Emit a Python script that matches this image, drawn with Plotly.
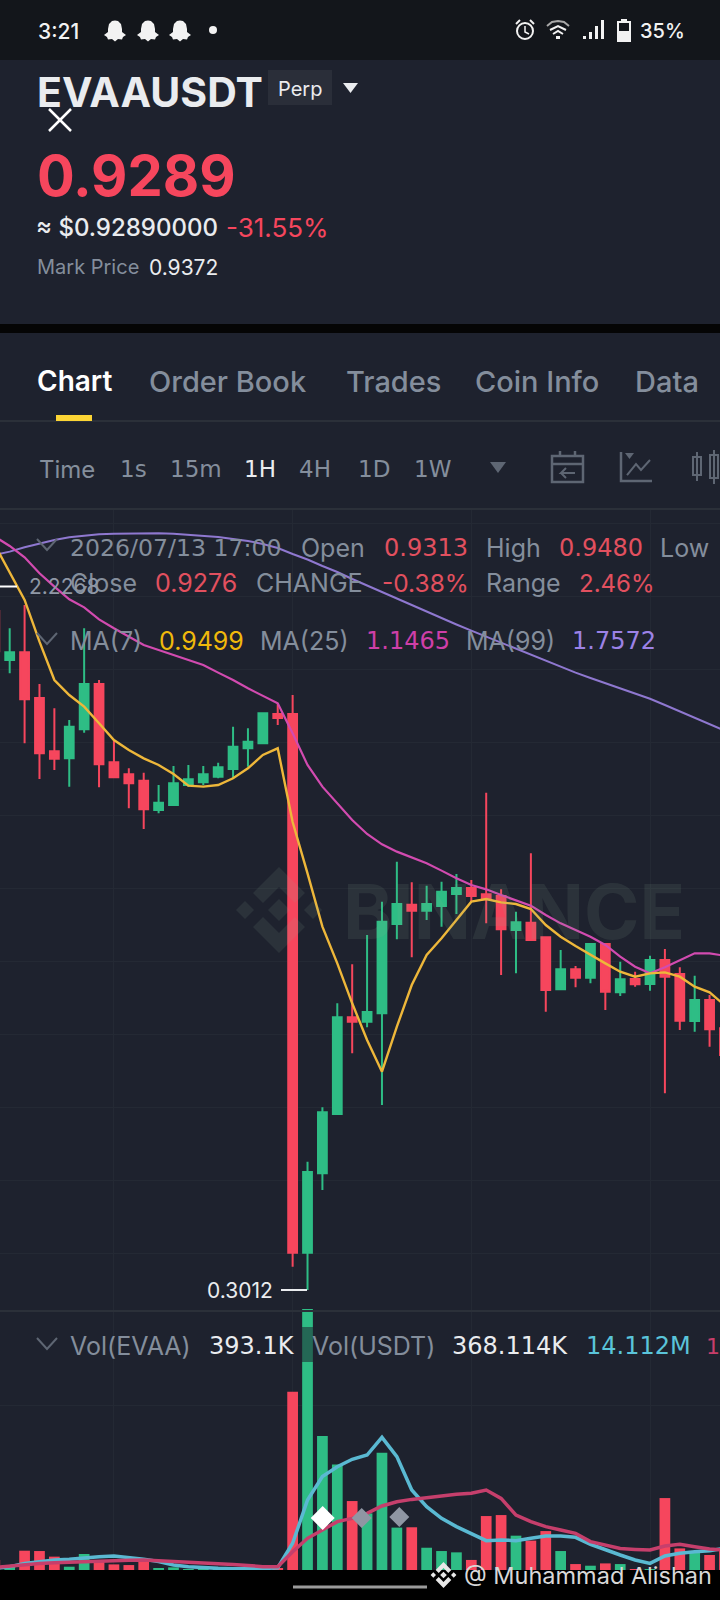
import plotly.graph_objects as go

W, H = 720, 1600
BG = "#1e222e"
GRAY = "#848e9c"
RED = "#f6465d"
RED_DIM = "#e2505f"
GREEN = "#2ebd85"
FONT = "Inter"
NUM = "DejaVu Sans"

candle = list(range(-1, 49))
open_ = [2.16, 2.0262, 2.0472, 1.9221, 1.7761, 1.7569, 1.8363, 1.9605, 1.7460, 1.7131, 1.6958, 1.6155, 1.6291, 1.6839, 1.6912, 1.7067, 1.7277, 1.7843, 1.7980, 1.8783, 1.8783,
         0.4034, 0.6206, 0.7831, 1.0478, 1.0359, 1.0587, 1.3033, 1.3563, 1.3398, 1.3526, 1.3855, 1.4018, 1.3845, 1.3799, 1.2868, 1.3069, 1.2667, 1.1244, 1.1791, 1.1563,
         1.2485, 1.1161, 1.1526, 1.1390, 1.2047, 1.1663, 1.0377, 1.0952, 1.0176]
high = [2.2268, 2.1129, 2.1768, 1.9605, 1.8938, 1.8619, 2.1129, 1.9714, 1.8071, 1.7295, 1.7177, 1.6839, 1.7359, 1.7387, 1.7359, 1.7451, 1.8436, 1.8391, 1.8829, 1.9075, 1.9303,
        0.6526, 0.8013, 1.0861, 1.1929, 1.2732, 1.3645, 1.4740, 1.4174, 1.4083, 1.4192, 1.4402, 1.4237, 1.6629, 1.3982, 1.3370, 1.4967, 1.2686, 1.2321, 1.1882, 1.2485,
        1.2503, 1.2001, 1.1727, 1.2165, 1.2348, 1.1846, 1.1618, 1.1088, 1.0221]
low = [2.00, 1.9897, 1.7980, 1.7003, 1.7250, 1.6793, 1.8272, 1.6775, 1.7022, 1.6200, 1.5634, 1.6063, 1.6264, 1.6793, 1.6839, 1.7022, 1.7022, 1.7341, 1.7962, 1.8482, 0.3651,
       0.3012, 0.5750, 0.7822, 0.9492, 1.0204, 0.8077, 1.2613, 1.2121, 1.3143, 1.2960, 1.3307, 1.3644, 1.3051, 1.1636, 1.1682, 1.2576, 1.0632, 1.1225, 1.1298, 1.1408,
       1.0678, 1.1061, 1.1317, 1.1207, 0.8396, 1.0130, 1.0085, 0.9674, 0.9309]
close = [2.05, 2.0472, 1.9185, 1.7706, 1.7560, 1.8436, 1.9605, 1.7405, 1.7049, 1.6885, 1.6173, 1.6355, 1.6885, 1.6994, 1.7131, 1.7323, 1.7889, 1.8026, 1.8801, 1.8674, 0.4034,
         0.6243, 0.7876, 1.0478, 1.0359, 1.0624, 1.3097, 1.3581, 1.3398, 1.3581, 1.3919, 1.4019, 1.3799, 1.3708, 1.2887, 1.3078, 1.2594, 1.1225, 1.1791, 1.1563, 1.2485,
         1.1180, 1.1517, 1.1381, 1.2047, 1.1590, 1.0386, 1.0952, 1.0148, 0.9446]
ma7 = [2.3410, 2.2662, 2.1905, 2.0764, 1.9714, 1.9303, 1.8984, 1.8528, 1.8071, 1.7797, 1.7569, 1.7387, 1.7140, 1.6821, 1.6793, 1.6839, 1.7022, 1.7295, 1.7661, 1.7843, 1.5826,
       1.4420, 1.2960, 1.1956, 1.0861, 0.9857, 0.8990, 1.0222, 1.1363, 1.2184, 1.2641, 1.3143, 1.3644, 1.3717, 1.3626, 1.3580, 1.3443, 1.3005, 1.2686, 1.2430, 1.2184,
       1.1955, 1.1727, 1.1590, 1.1682, 1.1709, 1.1590, 1.1317, 1.1161, 1.0814]
ma25 = [2.3639, 2.3383, 2.3073, 2.2635, 2.2270, 2.1923, 2.1704, 2.1375, 2.1129, 2.0901, 2.0672, 2.0536, 2.0399, 2.0262, 2.0125, 1.9915, 1.9714, 1.9486, 1.9285, 1.9075, 1.8254,
        1.7387, 1.6793, 1.6337, 1.5881, 1.5497, 1.5215, 1.5014, 1.4849, 1.4694, 1.4494, 1.4284, 1.4100, 1.3982, 1.3827, 1.3690, 1.3535, 1.3279, 1.3051, 1.2868, 1.2686,
        1.2458, 1.2138, 1.1864, 1.1682, 1.1846, 1.2047, 1.2229, 1.2229, 1.2165]
ma99 = [2.3137, 2.3228, 2.3347, 2.3456, 2.3547, 2.3620, 2.3666, 2.3703, 2.3721, 2.3730, 2.3730, 2.3730, 2.3721, 2.3693, 2.3666, 2.3630, 2.3575, 2.3520, 2.3438, 2.3328, 2.3164,
        2.3013, 2.2835, 2.2671, 2.2479, 2.2299, 2.2123, 2.1940, 2.1767, 2.1576, 2.1411, 2.1234, 2.1066, 2.0899, 2.0732, 2.0563, 2.0398, 2.0242, 2.0081, 1.9914, 1.9769,
        1.9623, 1.9476, 1.9330, 1.9199, 1.9029, 1.8849, 1.8684, 1.8509, 1.8331]
volume = [6.0, 3.0, 11.7, 11.5, 8.1, 2.0, 9.7, 5.1, 3.4, 3.0, 6.1, 1.0, 1.6, 0.4, 0.4, 0.4, 1.0, 0.8, 1.0, 1.0, 108.1,
          158.2, 81.2, 64.0, 41.8, 34.3, 71.1, 25.7, 25.9, 13.5, 11.5, 10.7, 6.1, 32.7, 33.3, 20.8, 17.8, 23.6, 11.5, 3.6, 2.6,
          4.0, 3.6, 0.6, 0.4, 43.6, 13.1, 11.1, 9.1, 12.1]
vol_ma_a = [1.0, 2.0, 4.0, 5.1, 6.1, 6.5, 7.5, 8.1, 8.5, 7.7, 6.5, 5.1, 3.0, 2.0, 1.4, 1.0, 0.8, 0.6, 0.8, 1.4, 16.2,
            42.4, 56.6, 62.6, 67.1, 69.7, 80.4, 68.7, 48.5, 38.4, 31.3, 26.3, 22.2, 17.8, 18.2, 17.8, 19.2, 20.6, 20.6, 19.8, 15.6,
            12.1, 9.1, 6.1, 4.0, 8.5, 10.1, 11.1, 11.7, 13.1]
vol_ma_b = [1.6, 2.4, 3.4, 4.0, 4.4, 4.8, 5.1, 5.5, 5.7, 5.9, 6.1, 5.7, 5.1, 4.8, 4.6, 4.0, 3.4, 2.8, 2.0, 2.0, 11.1,
            19.2, 24.2, 29.3, 31.3, 34.3, 38.8, 41.4, 42.8, 44.0, 44.8, 45.9, 46.5, 48.5, 43.4, 33.3, 29.3, 26.3, 24.2, 22.2, 17.2,
            15.2, 13.1, 12.5, 12.1, 14.5, 15.6, 14.1, 12.7, 12.1]
vol_colors = [GREEN if c >= o else RED for o, c in zip(open_, close)]


# pixel helpers for the app furniture round the chart
def fx(x):
    return x / W


def fy(y):
    return 1 - y / H


shapes = []
notes = []


def rect(x0, y0, x1, y1, fill, layer="above", outline=None, lw=0):
    shapes.append(dict(type="rect", xref="paper", yref="paper", x0=fx(x0), x1=fx(x1), y0=fy(y1), y1=fy(y0),
                       fillcolor=fill, line=dict(color=outline, width=lw) if outline else dict(width=0), layer=layer))


def seg(x0, y0, x1, y1, color, lw=2, layer="above"):
    shapes.append(dict(type="line", xref="paper", yref="paper", x0=fx(x0), x1=fx(x1), y0=fy(y0), y1=fy(y1),
                       line=dict(color=color, width=lw), layer=layer))


def poly(points, fill=None, color=None, lw=0, closed=True, layer="above"):
    d = "M " + " L ".join(f"{fx(x):.5f},{fy(y):.5f}" for x, y in points) + (" Z" if closed else "")
    shapes.append(dict(type="path", path=d, xref="paper", yref="paper", fillcolor=fill,
                       line=dict(color=color, width=lw) if color else dict(width=0), layer=layer))


def txt(x, y, s, size, color=GRAY, anchor="left", weight=400, font=FONT):
    notes.append(dict(x=fx(x), y=fy(y), xref="paper", yref="paper", text=s, showarrow=False, xanchor=anchor, yanchor="middle",
                      font=dict(family=font, size=size, color=color, weight=weight), borderpad=0))


def ghost(cx, cy):
    p = [(-7, -2), (-6, -7), (-3, -10), (0, -10.5), (3, -10), (6, -7), (7, -2), (7, 1), (11, 4), (8, 6), (7, 8.5), (3, 8), (0, 10.5), (-3, 8), (-7, 8.5), (-8, 6), (-11, 4), (-7, 1)]
    poly([(cx + a, cy + b) for a, b in p], fill="#f2f2f2")


def chevron(y):
    poly([(37, y - 6), (47, y + 5), (57, y - 6)], color="#5e6673", lw=2, closed=False)


def diamond(cx, cy, r, fill):
    poly([(cx - r, cy), (cx, cy - r), (cx + r, cy), (cx, cy + r)], fill=fill)


def logo(cx, cy, s, fill):
    roof = [(0, -43), (26, -17), (16, -7), (0, -23), (-16, -7), (-26, -17)]
    poly([(cx + a * s, cy + b * s) for a, b in roof], fill=fill)
    poly([(cx + a * s, cy - b * s) for a, b in roof], fill=fill)
    diamond(cx, cy, 11 * s, fill)
    diamond(cx - 34 * s, cy, 9 * s, fill)
    diamond(cx + 34 * s, cy, 9 * s, fill)


# panels
rect(0, 0, 720, 60, "#13161b", "below")
rect(0, 324, 720, 333, "#050505", "below")
rect(0, 1570, 720, 1600, "#000000")
seg(0, 421, 720, 421, "#2b3039", 2, "below")
seg(0, 509, 720, 509, "#2b3039", 2, "below")

# status bar
txt(37, 31, "3:21", 21, "#f2f2f2", weight=500)
for cx in (115, 148, 180):
    ghost(cx, 31)
shapes.append(dict(type="circle", xref="paper", yref="paper", x0=fx(209), x1=fx(217), y0=fy(34), y1=fy(26), fillcolor="#f2f2f2", line=dict(width=0)))
shapes.append(dict(type="circle", xref="paper", yref="paper", x0=fx(517), x1=fx(533), y0=fy(39), y1=fy(23), line=dict(color="#f2f2f2", width=2)))
poly([(525, 26), (525, 32), (529, 34)], color="#f2f2f2", lw=1.5, closed=False)
seg(516, 24, 520, 20, "#f2f2f2", 2)
seg(534, 24, 530, 20, "#f2f2f2", 2)
poly([(547, 26), (552, 22), (558, 21), (564, 22), (569, 26)], color="#a8a8a8", lw=2, closed=False)
poly([(550, 30), (558, 26), (566, 30)], color="#f2f2f2", lw=2, closed=False)
poly([(553, 34), (558, 31), (563, 34)], color="#f2f2f2", lw=2, closed=False)
rect(556, 36, 560, 39, "#f2f2f2")
for sx, top in zip((583, 589, 595, 601), (36, 32, 26, 20)):
    rect(sx, top, sx + 3, 39, "#f2f2f2")
rect(618, 22, 630, 41, None, outline="#f2f2f2", lw=2)
rect(621, 19, 627, 22, "#f2f2f2")
rect(618, 31, 630, 41, "#f2f2f2")
txt(639, 31, "35%", 20, "#f2f2f2", weight=500)

# header
txt(36, 92, "EVAAUSDT", 41, "#eaecef", weight=700)
rect(268, 70, 332, 105, "#2a2e39")
txt(300, 89, "Perp", 20, "#eaecef", "center")
poly([(343, 83), (358, 83), (350.5, 93)], fill="#eaecef")
seg(49, 109, 71, 131, "#ffffff", 2.5)
seg(71, 109, 49, 131, "#ffffff", 2.5)
txt(36, 176, "0.9289", 56, RED, weight=700)
txt(35, 228, "≈ $0.92890000", 24, "#eaecef", weight=500)
txt(225, 228, "-31.55%", 26, RED)
txt(36, 267, "Mark Price", 20, GRAY)
txt(148, 267, "0.9372", 21, "#eaecef")

# tabs
txt(36, 381, "Chart", 28, "#ffffff", weight=600)
for tx, s in zip((148, 345, 474, 634), ("Order Book", "Trades", "Coin Info", "Data")):
    txt(tx, 381, s, 29, GRAY, weight=500)
rect(56, 415, 92, 421, "#fcd535")

# intervals
txt(38, 469, "Time", 24)
for tx, s, col in zip((119, 169, 243, 298, 357, 413), ("1s", "15m", "1H", "4H", "1D", "1W"),
                      (GRAY, GRAY, "#eaecef", GRAY, GRAY, GRAY)):
    txt(tx, 469, s, 23, col, font=NUM)
poly([(490, 462), (506, 462), (498, 473)], fill="#5e6673")
ICON = "#5e6673"
rect(552, 456, 583, 482, None, outline=ICON, lw=2.5)
seg(552, 464, 583, 464, ICON, 2.5)
seg(560, 451, 560, 456, ICON, 2.5)
seg(575, 451, 575, 456, ICON, 2.5)
poly([(575, 473), (561, 473), (566, 468)], color=ICON, lw=2, closed=False)
seg(561, 473, 566, 478, ICON, 2)
poly([(621, 452), (621, 481), (652, 481)], color=ICON, lw=2.5, closed=False)
poly([(627, 475), (636, 464), (641, 470), (650, 460)], color=ICON, lw=2, closed=False)
poly([(625, 453), (634, 453), (629.5, 459)], fill=ICON)
rect(693, 457, 701, 475, None, outline=ICON, lw=2)
seg(697, 452, 697, 481, ICON, 2)
rect(710, 455, 718, 478, None, outline=ICON, lw=2)
seg(714, 450, 714, 484, ICON, 2)

# chart overlay texts
chevron(545)
txt(69, 548, "2026/07/13 17:00", 23.6, font=NUM)
txt(300, 548, "Open", 25)
txt(383, 548, "0.9313", 24, RED_DIM, font=NUM)
txt(485, 548, "High", 25)
txt(558, 548, "0.9480", 24, RED_DIM, font=NUM)
txt(659, 548, "Low", 25)
txt(69, 583, "Close", 25)
txt(154, 583, "0.9276", 25, RED_DIM)
txt(255, 583, "CHANGE", 25)
txt(381, 583, "-0.38%", 24.5, RED_DIM)
txt(485, 583, "Range", 25)
txt(578, 583, "2.46%", 24, RED_DIM)
chevron(639)
txt(69, 641, "MA(7)", 25)
txt(158, 641, "0.9499", 25, "#f0b90b")
txt(259, 641, "MA(25)", 25)
txt(365, 641, "1.1465", 24, "#cf3fa8", font=NUM)
txt(465, 641, "MA(99)", 25)
txt(571, 641, "1.7572", 24, "#9c82e6", font=NUM)
seg(0, 586.5, 17, 586.5, "#ffffff", 2)
txt(28, 586, "2.2268", 21, "#8f98a6")
seg(281, 1290, 307, 1290, "#eaecef", 2)
txt(274, 1290, "0.3012", 21, "#eaecef", "right")

# watermark
wm = "rgba(140,170,150,0.12)"
logo(279, 910, 1.0, wm)
txt(342, 911, "BINANCE", 75, wm, weight=700)

# volume header
seg(0, 1311, 720, 1311, "#2b3039", 2)
rect(302, 1327, 313, 1362, "rgba(30,34,46,0.55)")
chevron(1344)
txt(69, 1346, "Vol(EVAA)", 25)
txt(208, 1346, "393.1K", 24, "#eaecef", font=NUM)
txt(311, 1346, "Vol(USDT)", 25)
txt(451, 1346, "368.114K", 24, "#eaecef", font=NUM)
txt(585, 1346, "14.112M", 24, "#5ac4da", font=NUM)
txt(705, 1346, "1", 22, "#c73e6a", font=NUM)

# carousel dots, footer
diamond(322.7, 1518, 12, "#ffffff")
diamond(361.7, 1518, 10, "#8f96a3")
diamond(399.3, 1517, 10, "#8f96a3")
seg(293, 1587, 427, 1587, "#9b9b9b", 3)
logo(443.5, 1575, 0.3, "#e8e8e8")
txt(463, 1575, "@ Muhammad Alishan", 23.5, "#d8d8d8")

fig = go.Figure()
fig.add_trace(go.Candlestick(x=candle, open=open_, high=high, low=low, close=close,
                             increasing=dict(line=dict(color=GREEN, width=2), fillcolor=GREEN),
                             decreasing=dict(line=dict(color=RED, width=2), fillcolor=RED),
                             whiskerwidth=0, xaxis="x", yaxis="y"))
fig.add_trace(go.Scatter(x=candle, y=ma99, mode="lines", line=dict(color="#8f78d0", width=2)))
fig.add_trace(go.Scatter(x=candle, y=ma25, mode="lines", line=dict(color="#d24bb0", width=2.2)))
fig.add_trace(go.Scatter(x=candle, y=ma7, mode="lines", line=dict(color="#eeb73a", width=2.4)))
fig.add_trace(go.Bar(x=candle, y=volume, marker=dict(color=vol_colors, line=dict(width=0)), width=0.72, xaxis="x2", yaxis="y2"))
fig.add_trace(go.Scatter(x=candle, y=vol_ma_a, mode="lines", line=dict(color="#5ab9d2", width=3.5), xaxis="x2", yaxis="y2"))
fig.add_trace(go.Scatter(x=candle, y=vol_ma_b, mode="lines", line=dict(color="#c63f6c", width=3.5), xaxis="x2", yaxis="y2"))

GRID = "#242934"
axis_x = dict(range=[-0.651, 47.70], showticklabels=False, ticks="", zeroline=False, tickmode="linear", tick0=7, dtick=12,
              showgrid=True, gridcolor=GRID, gridwidth=1, showline=False, rangeslider=dict(visible=False))
fig.update_layout(
    width=W, height=H, margin=dict(l=0, r=0, t=0, b=0), paper_bgcolor=BG, plot_bgcolor="rgba(0,0,0,0)",
    showlegend=False, boxgap=0.41, boxgroupgap=0, bargap=0.28,
    xaxis=dict(axis_x, anchor="y"),
    yaxis=dict(domain=[fy(1311), fy(510)], range=[0.2437, 2.4368], tickmode="linear", tick0=0, dtick=0.2, showticklabels=False,
               ticks="", zeroline=False, showgrid=True, gridcolor=GRID, anchor="x"),
    xaxis2=dict(axis_x, anchor="y2"),
    yaxis2=dict(domain=[fy(1570), fy(1309)], range=[0, 158.2], tickmode="array", tickvals=[100], showticklabels=False,
                ticks="", zeroline=False, showgrid=True, gridcolor=GRID, anchor="x2"),
    shapes=shapes, annotations=notes,
)
fig.write_html("out.html", post_script="document.body.style.margin='0';", config=dict(displayModeBar=False))
